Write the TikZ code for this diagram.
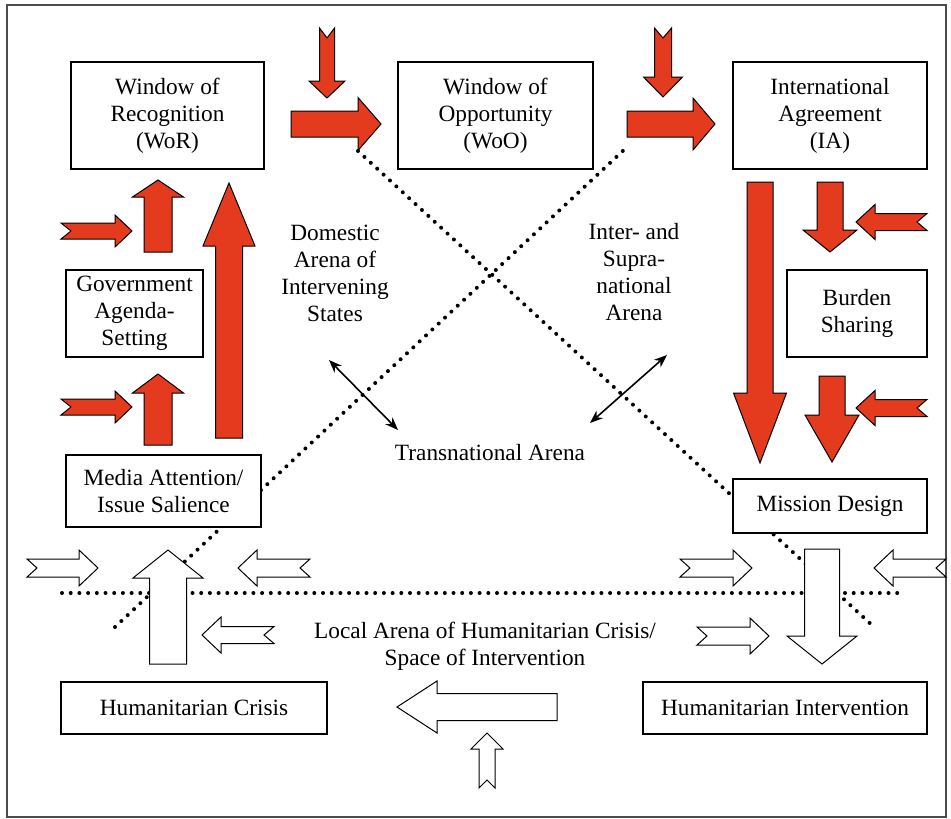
\documentclass[tikz,border=0pt]{standalone}
\usepackage{fontspec}
\setmainfont{Liberation Serif}
\usetikzlibrary{calc,arrows.meta}
\definecolor{arrowred}{RGB}{228,58,30}
\tikzset{
    ar shaft/.store in=\arShaft, ar head/.store in=\arHead,
    ar len/.store in=\arLen, ar notch/.store in=\arNotch,
    ar shaft=8pt, ar head=16pt, ar len=18pt, ar notch=0pt
}
\newcommand{\blockarrow}[3][]{%
    \begin{scope}[#1]
        \coordinate (hb) at ($(#3)!\arLen!(#2)$);
        \draw[#1] ($(#2)!\arShaft!90:(#3)$) -- ($(hb)!\arShaft!90:(#3)$) -- ($(hb)!\arHead!90:(#3)$) -- (#3)
            -- ($(hb)!\arHead!-90:(#3)$) -- ($(hb)!\arShaft!-90:(#3)$) -- ($(#2)!\arShaft!-90:(#3)$)
            -- ($(#2)!\arNotch!(#3)$) -- cycle;
    \end{scope}}

\begin{document}
\begin{tikzpicture}[x=1pt, y=-1pt,
        box/.style={draw, fill=white, line width=1.4pt, align=center, inner sep=0pt, font=\fontsize{23.3}{27}\selectfont},
        arena/.style={align=center, font=\fontsize{23.3}{27}\selectfont},
        redar/.style={fill=arrowred, draw=black, line width=1pt},
        whitear/.style={fill=white, draw=black, line width=1pt},
        sidein/.style={ar shaft=8.5pt, ar head=17.5pt, ar len=19pt, ar notch=10pt},
        dotline/.style={line width=4pt, line cap=round, dash pattern=on 0pt off 8.7pt},
        twoway/.style={{Stealth[length=13pt, width=10pt]}-{Stealth[length=13pt, width=10pt]}, line width=1.6pt}]
            \useasboundingbox (0,0) rectangle (951,819);
            \draw[black!70, line width=1.5pt] (7,5) rectangle (946,817);

            \coordinate (h1) at (62,593);
            \coordinate (h2) at (905,593);
            \coordinate (d1) at (115,627);
            \coordinate (d2) at (627,147);
            \coordinate (d3) at (358,151);
            \coordinate (d4) at (874,627);
            \draw[dotline] (h1) -- (h2);
            \draw[dotline] (d1) -- (d2);
            \draw[dotline] (d3) -- (d4);

            \node[box, minimum width=193pt, minimum height=107pt] (wor) at (167.5,115.5) {Window of\\ Recognition\\ (WoR)};
            \node[box, minimum width=195pt, minimum height=107pt] (woo) at (495.5,115.5) {Window of\\ Opportunity\\ (WoO)};
            \node[box, minimum width=194pt, minimum height=107pt] (ia) at (830,115.5) {International\\ Agreement\\ (IA)};
            \node[box, minimum width=137pt, minimum height=87pt] (gov) at (134.5,313.5) {Government\\ Agenda-\\ Setting};
            \node[box, minimum width=140pt, minimum height=87pt] (burden) at (857,313.5) {Burden\\ Sharing};
            \node[box, minimum width=195pt, minimum height=72pt] (media) at (163.5,491) {Media Attention/\\ Issue Salience};
            \node[box, minimum width=194pt, minimum height=54pt] (mission) at (830,506) {Mission Design};
            \node[box, minimum width=266pt, minimum height=52pt] (crisis) at (194,708) {Humanitarian Crisis};
            \node[box, minimum width=284pt, minimum height=52pt] (interv) at (785,708) {Humanitarian Intervention};

            \node[arena] (dom) at (335,273) {Domestic\\ Arena of\\ Intervening\\ States};
            \node[arena] (inter) at (634,272) {Inter- and\\ Supra-\\ national\\ Arena};
            \node[arena] (trans) at (490,453) {Transnational Arena};
            \node[arena] (local) at (485,646) {Local Arena of Humanitarian Crisis/\\ Space of Intervention};

            \coordinate (t1) at (329,360);
            \coordinate (t2) at (398,430);
            \coordinate (t3) at (667,355);
            \coordinate (t4) at (590,423);
            \draw[twoway] (t1) -- (t2);
            \draw[twoway] (t3) -- (t4);

            \coordinate (r1s) at (327,28);   \coordinate (r1e) at (327,98);
            \coordinate (r2s) at (291,124);  \coordinate (r2e) at (381,124);
            \coordinate (r3s) at (663,28);   \coordinate (r3e) at (663,97);
            \coordinate (r4s) at (627,124);  \coordinate (r4e) at (715,124);
            \coordinate (r5s) at (760,182);  \coordinate (r5e) at (760,463);
            \coordinate (r6s) at (830,182);  \coordinate (r6e) at (830,252);
            \coordinate (r7s) at (927,222);  \coordinate (r7e) at (856,222);
            \coordinate (r8s) at (832,376);  \coordinate (r8e) at (832,462);
            \coordinate (r9s) at (927,408);  \coordinate (r9e) at (856,408);
            \coordinate (r10s) at (229,438); \coordinate (r10e) at (229,183);
            \coordinate (r11s) at (158,252); \coordinate (r11e) at (158,180);
            \coordinate (r12s) at (61,231);  \coordinate (r12e) at (132,231);
            \coordinate (r13s) at (158,445); \coordinate (r13e) at (158,374);
            \coordinate (r14s) at (61,407);  \coordinate (r14e) at (132,407);

            \blockarrow[redar, ar shaft=7.5pt, ar head=18pt, ar len=17pt, ar notch=10pt]{r1s}{r1e}
            \blockarrow[redar, ar shaft=13pt, ar head=26.5pt, ar len=23pt]{r2s}{r2e}
            \blockarrow[redar, ar shaft=8.5pt, ar head=19.5pt, ar len=20pt, ar notch=10pt]{r3s}{r3e}
            \blockarrow[redar, ar shaft=13pt, ar head=26pt, ar len=22pt]{r4s}{r4e}
            \blockarrow[redar, ar shaft=13pt, ar head=26.5pt, ar len=70pt]{r5s}{r5e}
            \blockarrow[redar, ar shaft=13pt, ar head=27pt, ar len=22pt]{r6s}{r6e}
            \blockarrow[redar, sidein]{r7s}{r7e}
            \blockarrow[redar, ar shaft=13pt, ar head=27pt, ar len=47pt]{r8s}{r8e}
            \blockarrow[redar, sidein]{r9s}{r9e}
            \blockarrow[redar, ar shaft=13.5pt, ar head=26pt, ar len=63pt]{r10s}{r10e}
            \blockarrow[redar, ar shaft=14pt, ar head=25.5pt, ar len=17pt]{r11s}{r11e}
            \blockarrow[redar, sidein, ar shaft=8pt, ar head=16pt, ar len=17pt]{r12s}{r12e}
            \blockarrow[redar, ar shaft=14pt, ar head=25.5pt, ar len=19pt]{r13s}{r13e}
            \blockarrow[redar, sidein, ar shaft=8pt, ar head=16pt, ar len=17pt]{r14s}{r14e}

            \coordinate (w1s) at (27,568);   \coordinate (w1e) at (98,568);
            \coordinate (w2s) at (168,664);  \coordinate (w2e) at (168,550);
            \coordinate (w3s) at (310,568);  \coordinate (w3e) at (238,568);
            \coordinate (w4s) at (274,635);  \coordinate (w4e) at (202,635);
            \coordinate (w5s) at (557,707);  \coordinate (w5e) at (397,707);
            \coordinate (w6s) at (487,788);  \coordinate (w6e) at (487,733);
            \coordinate (w7s) at (680,568);  \coordinate (w7e) at (752,568);
            \coordinate (w8s) at (946,568);  \coordinate (w8e) at (874,568);
            \coordinate (w9s) at (697,636);  \coordinate (w9e) at (769,636);
            \coordinate (w10s) at (822,549); \coordinate (w10e) at (822,664);

            \blockarrow[whitear, sidein, ar shaft=9pt, ar head=18pt]{w1s}{w1e}
            \blockarrow[whitear, ar shaft=18.5pt, ar head=35pt, ar len=28pt]{w2s}{w2e}
            \blockarrow[whitear, sidein, ar shaft=9pt, ar head=18pt]{w3s}{w3e}
            \blockarrow[whitear, sidein, ar head=18pt]{w4s}{w4e}
            \blockarrow[whitear, ar shaft=13.5pt, ar head=26pt, ar len=40pt]{w5s}{w5e}
            \blockarrow[whitear, sidein, ar shaft=8pt, ar head=16pt, ar len=16pt, ar notch=8pt]{w6s}{w6e}
            \blockarrow[whitear, sidein, ar shaft=9pt, ar head=18pt]{w7s}{w7e}
            \blockarrow[whitear, sidein, ar shaft=9pt, ar head=18pt]{w8s}{w8e}
            \blockarrow[whitear, sidein, ar shaft=9pt, ar head=18pt]{w9s}{w9e}
            \blockarrow[whitear, ar shaft=17.5pt, ar head=35pt, ar len=28pt]{w10s}{w10e}
        \end{tikzpicture}
\end{document}
